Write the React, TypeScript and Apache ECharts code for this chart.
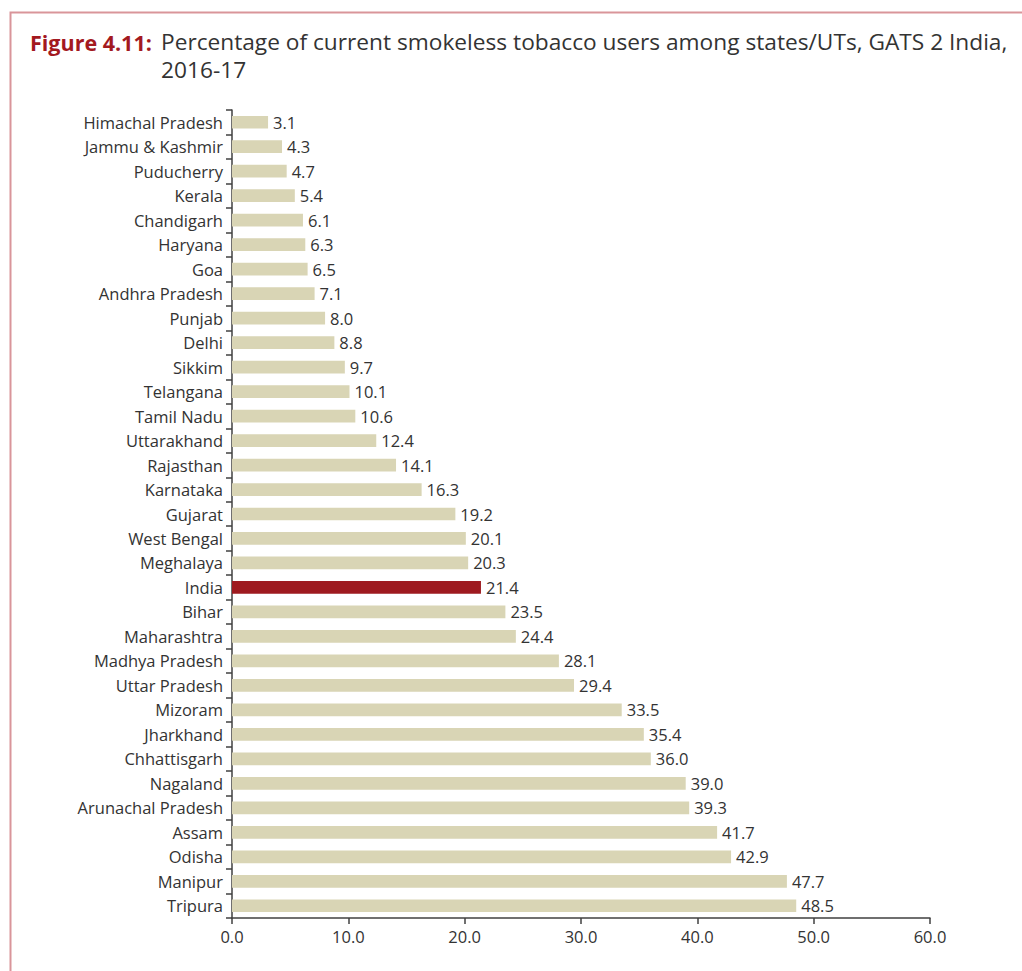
import React, { useEffect, useRef } from "react";
import * as echarts from "echarts";

const states = [
  "Himachal Pradesh", "Jammu & Kashmir", "Puducherry", "Kerala", "Chandigarh", "Haryana", "Goa",
  "Andhra Pradesh", "Punjab", "Delhi", "Sikkim", "Telangana", "Tamil Nadu", "Uttarakhand",
  "Rajasthan", "Karnataka", "Gujarat", "West Bengal", "Meghalaya", "India", "Bihar", "Maharashtra",
  "Madhya Pradesh", "Uttar Pradesh", "Mizoram", "Jharkhand", "Chhattisgarh", "Nagaland",
  "Arunachal Pradesh", "Assam", "Odisha", "Manipur", "Tripura",
];
const values = [
  3.1, 4.3, 4.7, 5.4, 6.1, 6.3, 6.5, 7.1, 8.0, 8.8, 9.7, 10.1, 10.6, 12.4, 14.1, 16.3, 19.2, 20.1,
  20.3, 21.4, 23.5, 24.4, 28.1, 29.4, 33.5, 35.4, 36.0, 39.0, 39.3, 41.7, 42.9, 47.7, 48.5,
];
const highlight = "India";
const titleLabel = "Figure 4.11:";
const titleLine1 = "Percentage of current smokeless tobacco users among states/UTs, GATS 2 India,";
const titleLine2 = "2016-17";

export default function App() {
  const ref = useRef<HTMLDivElement>(null);
  useEffect(() => {
    document.body.style.margin = "0";
    const chart = echarts.init(ref.current!, undefined, { renderer: "svg" });
    const font = "'Open Sans', sans-serif";
    chart.setOption({
      animation: false,
      backgroundColor: "#ffffff",
      graphic: [
        { type: "rect", left: 8, top: 10, shape: { width: 1030, height: 980 }, style: { fill: "none", stroke: "#d9959a", lineWidth: 2 }, z: -1 },
        { type: "text", left: 30, top: 31, style: { text: titleLabel, font: "bold 21.5px 'Open Sans', sans-serif", fill: "#a3191f" } },
        { type: "text", left: 161, top: 30, style: { text: titleLine1, font: "22.7px 'Open Sans', sans-serif", fill: "#333333" } },
        { type: "text", left: 161, top: 58, style: { text: titleLine2, font: "22.7px 'Open Sans', sans-serif", fill: "#333333" } },
      ],
      grid: { left: 232, right: 92, top: 110, bottom: 53, containLabel: false },
      xAxis: {
        type: "value", min: 0, max: 60, interval: 10,
        axisLine: { show: true, lineStyle: { color: "#404040", width: 1.5 } },
        axisTick: { show: true, length: 6, lineStyle: { color: "#404040", width: 1.5 } },
        splitLine: { show: false },
        axisLabel: { formatter: (v: number) => v.toFixed(1), color: "#333", fontSize: 16.5, fontFamily: font, margin: 10 },
      },
      yAxis: {
        type: "category", data: states, inverse: true,
        axisLine: { show: true, lineStyle: { color: "#404040", width: 1.5 } },
        axisTick: { show: true, length: 6, lineStyle: { color: "#404040", width: 1.5 } },
        axisLabel: { color: "#333", fontSize: 16.5, fontFamily: font, margin: 9 },
      },
      series: [{
        type: "bar", barWidth: "52%",
        data: values.map((v, i) => ({
          value: v,
          itemStyle: { color: states[i] === highlight ? "#9e1a1f" : "#d9d5b5" },
        })),
        label: { show: true, position: "right", distance: 5, formatter: (p: any) => p.value.toFixed(1), color: "#333", fontSize: 16.5, fontFamily: font },
      }],
    });
    return () => chart.dispose();
  }, []);
  return <div ref={ref} style={{ width: 1022, height: 971 }} />;
}
